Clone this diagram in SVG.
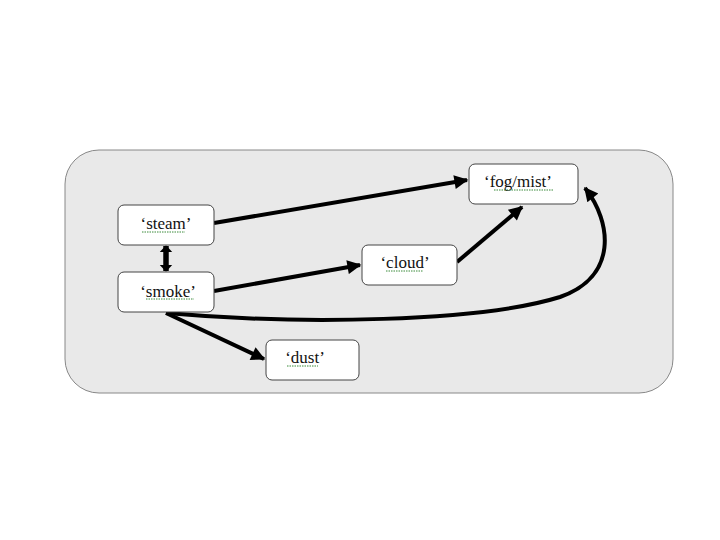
<svg xmlns="http://www.w3.org/2000/svg" width="720" height="540" viewBox="0 0 720 540">
<style>
.box{fill:#fff;stroke:#444;stroke-width:1}
.lbl{font-family:"Liberation Serif",serif;font-size:17px;fill:#111;text-anchor:middle}
.sq{stroke:#3a8a3a;stroke-width:1;stroke-dasharray:1.5 1;fill:none}
.c{stroke:#000;stroke-width:4;fill:none}
</style>
<defs>
<marker id="ah" viewBox="0 0 10 10" refX="9" refY="5" markerWidth="4" markerHeight="3.5" orient="auto-start-reverse" markerUnits="strokeWidth">
<path d="M0,0 L10,5 L0,10 z" fill="#000"/>
</marker>
<marker id="ah2" viewBox="0 0 10 10" refX="9" refY="5" markerWidth="1.3" markerHeight="2.4" orient="auto-start-reverse" markerUnits="strokeWidth" preserveAspectRatio="none">
<path d="M0,0 L10,5 L0,10 z" fill="#000"/>
</marker>
</defs>
<rect width="720" height="540" fill="#fff"/>
<rect x="65" y="150" width="608" height="243" rx="34" fill="#e9e9e9" stroke="#888" stroke-width="1"/>
<g id="connectors">
<line class="c" x1="214" y1="223" x2="467" y2="180" marker-end="url(#ah)"/>
<line class="c" x1="214" y1="291" x2="360" y2="265" marker-end="url(#ah)"/>
<line class="c" x1="457" y1="262" x2="522" y2="207" marker-end="url(#ah)"/>
<line class="c" style="stroke-width:5.5" x1="166" y1="246" x2="166" y2="271" marker-start="url(#ah2)" marker-end="url(#ah2)"/>
<line class="c" x1="166" y1="313" x2="264" y2="359" marker-end="url(#ah)"/>
<path class="c" d="M166,313 C300,325 480,322 560,297 C618,277 612,222 585,188" marker-end="url(#ah)"/>
</g>
<g id="steam">
<rect class="box" x="118" y="205" width="96" height="40" rx="6"/>
<text class="lbl" x="166" y="229">‘steam’</text>
<line class="sq" x1="142" y1="232" x2="185" y2="232"/>
</g>
<g id="smoke">
<rect class="box" x="118" y="272" width="96" height="40" rx="6"/>
<text class="lbl" x="168" y="297">‘smoke’</text>
<line class="sq" x1="146" y1="299" x2="194" y2="299"/>
</g>
<g id="cloud">
<rect class="box" x="362" y="245" width="95" height="40" rx="6"/>
<text class="lbl" x="405" y="268">‘cloud’</text>
<line class="sq" x1="386" y1="271" x2="423" y2="271"/>
</g>
<g id="fogmist">
<rect class="box" x="469" y="164" width="109" height="40" rx="6"/>
<text class="lbl" x="518" y="187">‘fog/mist’</text>
<line class="sq" x1="494" y1="190" x2="553" y2="190"/>
</g>
<g id="dust">
<rect class="box" x="266" y="340" width="93" height="40" rx="6"/>
<text class="lbl" x="305" y="363">‘dust’</text>
<line class="sq" x1="287" y1="366" x2="318" y2="366"/>
</g>
</svg>
